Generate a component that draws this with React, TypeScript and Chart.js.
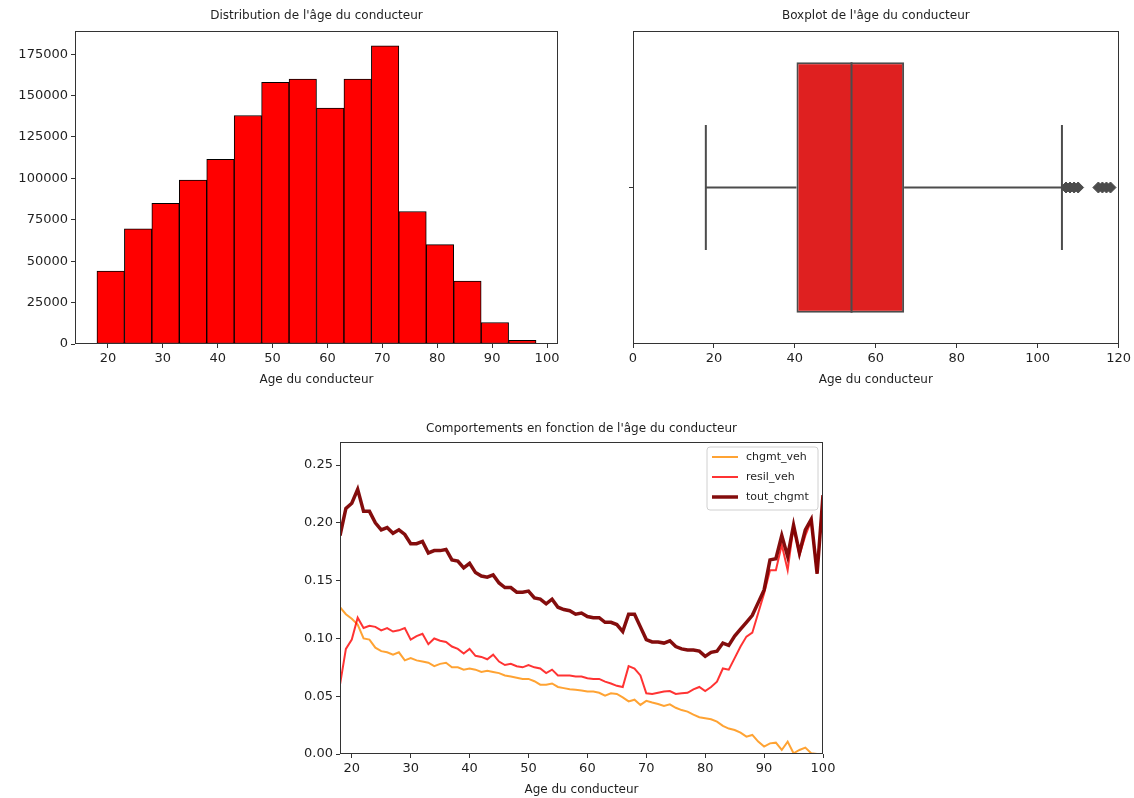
import React, { useEffect, useRef } from "react";
import { Chart, registerables } from "chart.js";
Chart.register(...registerables);

const FONT = "'DejaVu Sans', sans-serif";
const TEXT = "#1f1f1f";
const SPINE = "#333333";

// ---------- Histogram data ----------
const histEdges = [18, 23, 28, 33, 38, 43, 48, 53, 58, 63, 68, 73, 78, 83, 88, 93, 98];
const histCounts = [44000, 69500, 85000, 99000, 111500, 138000, 158000, 160000, 142500, 160000, 180000, 80000, 60000, 38000, 13000, 2200];
const histXTicks = [20, 30, 40, 50, 60, 70, 80, 90, 100];
const histYTicks = [0, 25000, 50000, 75000, 100000, 125000, 150000, 175000];

// ---------- Boxplot data ----------
const boxQuartiles = [40.4, 54, 67]; // Q1, median, Q3
const boxWhiskers = [18, 106];
const boxOutliers = [107, 108, 109, 110, 115, 116, 117, 118];
const boxXTicks = [0, 20, 40, 60, 80, 100, 120];

// ---------- Line chart data ----------
const lineAges = [
  18, 19, 20, 21, 22, 23, 24, 25, 26, 27, 28, 29, 30, 31, 32, 33, 34, 35, 36, 37,
  38, 39, 40, 41, 42, 43, 44, 45, 46, 47, 48, 49, 50, 51, 52, 53, 54, 55, 56, 57,
  58, 59, 60, 61, 62, 63, 64, 65, 66, 67, 68, 69, 70, 71, 72, 73, 74, 75, 76, 77,
  78, 79, 80, 81, 82, 83, 84, 85, 86, 87, 88, 89, 90, 91, 92, 93, 94, 95, 96, 97,
  98, 99, 100,
];
const chgmtVeh = [
  0.127, 0.121, 0.117, 0.112, 0.100, 0.099, 0.092, 0.089, 0.088, 0.086,
  0.088, 0.081, 0.083, 0.081, 0.080, 0.079, 0.076, 0.078, 0.079, 0.075,
  0.075, 0.073, 0.074, 0.073, 0.071, 0.072, 0.071, 0.070, 0.068, 0.067,
  0.066, 0.065, 0.065, 0.063, 0.060, 0.060, 0.061, 0.058, 0.057,
  0.056, 0.0555, 0.055, 0.054, 0.054, 0.053, 0.0505, 0.0525, 0.052, 0.049,
  0.0455, 0.047, 0.0425, 0.046, 0.0445, 0.0433, 0.0416, 0.043, 0.040, 0.038,
  0.0367, 0.034, 0.0318, 0.031, 0.030, 0.028, 0.0243, 0.022, 0.0208, 0.0185,
  0.015, 0.0165, 0.0107, 0.0064, 0.0092, 0.0098, 0.0035, 0.0107, 0.0006, 0.0035,
  0.0055, 0.0006, 0, 0,
];
const resilVeh = [
  0.060, 0.091, 0.099, 0.118, 0.109, 0.111, 0.110, 0.107, 0.109, 0.106,
  0.107, 0.109, 0.099, 0.102, 0.104, 0.095, 0.100, 0.098, 0.097, 0.093,
  0.091, 0.087, 0.091, 0.085, 0.084, 0.082, 0.086, 0.080, 0.077, 0.078,
  0.076, 0.075, 0.077, 0.075, 0.074, 0.070, 0.073, 0.068, 0.068, 0.068,
  0.067, 0.067, 0.0655, 0.065, 0.065, 0.0626, 0.061, 0.059, 0.058, 0.076,
  0.074, 0.068, 0.0525, 0.052, 0.053, 0.054, 0.0545, 0.052, 0.0525, 0.053,
  0.056, 0.058, 0.0545, 0.058, 0.0626, 0.074, 0.073, 0.083, 0.093, 0.1016,
  0.105, 0.122, 0.139, 0.159, 0.159, 0.181, 0.159, 0.197, 0.172, 0.189,
  0.202, 0.156, 0.224,
];
const toutChgmt = [
  0.189, 0.2125, 0.217, 0.229, 0.210, 0.210, 0.200, 0.194, 0.196, 0.191,
  0.194, 0.190, 0.182, 0.182, 0.184, 0.174, 0.176, 0.176, 0.177, 0.168,
  0.167, 0.161, 0.165, 0.157, 0.154, 0.153, 0.155, 0.148, 0.144, 0.144,
  0.140, 0.140, 0.141, 0.135, 0.134, 0.130, 0.134, 0.127, 0.125, 0.124,
  0.121, 0.122, 0.119, 0.118, 0.118, 0.114, 0.114, 0.112, 0.106, 0.121,
  0.121, 0.110, 0.099, 0.097, 0.097, 0.096, 0.098, 0.093, 0.091, 0.090,
  0.090, 0.089, 0.0845, 0.088, 0.089, 0.096, 0.094, 0.102, 0.108, 0.114,
  0.120, 0.131, 0.142, 0.168, 0.169, 0.189, 0.171, 0.198, 0.174, 0.194,
  0.203, 0.156, 0.224,
];
const lineXTicks = [20, 30, 40, 50, 60, 70, 80, 90, 100];
const lineYTicks = [0, 0.05, 0.1, 0.15, 0.2, 0.25];

// ---------- helpers ----------
function linearAxis(o: {
  min: number; max: number; ticks: number[]; fit: number; horizontal: boolean;
  title?: string; titlePadBottom?: number; format?: (v: number) => string;
}) {
  return {
    type: "linear",
    min: o.min,
    max: o.max,
    offset: false,
    grid: {
      display: true, drawOnChartArea: false, drawTicks: true, tickLength: 4,
      tickWidth: 1, tickColor: SPINE, color: SPINE, offset: false,
    },
    border: { display: false },
    ticks: {
      font: { family: FONT, size: 13 }, color: TEXT, padding: 3, autoSkip: false,
      maxRotation: 0, minRotation: 0,
      callback: (v: number) => (o.format ? o.format(v) : String(v)),
    },
    afterBuildTicks: (s: any) => { s.ticks = o.ticks.map((v) => ({ value: v })); },
    afterFit: (s: any) => { if (o.horizontal) s.height = o.fit; else s.width = o.fit; },
    title: o.title
      ? { display: true, text: o.title, font: { family: FONT, size: 12 }, color: TEXT,
          padding: { top: 0, bottom: o.titlePadBottom ?? 0 } }
      : { display: false },
  };
}

function titleOpts(text: string, top: number, bottom: number) {
  return {
    display: true, text, fullSize: false, align: "center",
    font: { family: FONT, size: 12, weight: "normal" }, color: TEXT,
    padding: { top, bottom },
  };
}

const spinesPlugin = {
  id: "spines",
  afterDraw(chart: any) {
    const { ctx, chartArea: a } = chart;
    ctx.save();
    ctx.strokeStyle = SPINE;
    ctx.lineWidth = 1;
    const l = Math.round(a.left) + 0.5, t = Math.round(a.top) + 0.5;
    const r = Math.round(a.right) - 0.5, b = Math.round(a.bottom) - 0.5;
    ctx.strokeRect(l, t, r - l, b - t);
    ctx.restore();
  },
};

const legendPlugin = {
  id: "innerLegend",
  afterDraw(chart: any) {
    const { ctx, chartArea: a } = chart;
    const ds = chart.data.datasets;
    const w = 111, h = 63;
    const x = a.right - 5 - w, y = a.top + 5;
    ctx.save();
    ctx.beginPath();
    const r = 3;
    ctx.moveTo(x + r, y);
    ctx.arcTo(x + w, y, x + w, y + h, r);
    ctx.arcTo(x + w, y + h, x, y + h, r);
    ctx.arcTo(x, y + h, x, y, r);
    ctx.arcTo(x, y, x + w, y, r);
    ctx.closePath();
    ctx.fillStyle = "rgba(255,255,255,0.8)";
    ctx.fill();
    ctx.strokeStyle = "#d0d0d0";
    ctx.lineWidth = 1;
    ctx.stroke();
    ds.forEach((d: any, i: number) => {
      const yy = y + 10 + i * 20;
      ctx.beginPath();
      ctx.strokeStyle = d.borderColor;
      ctx.lineWidth = d.borderWidth;
      ctx.moveTo(x + 5, yy);
      ctx.lineTo(x + 31, yy);
      ctx.stroke();
      ctx.fillStyle = TEXT;
      ctx.font = `11px ${FONT}`;
      ctx.textBaseline = "middle";
      ctx.textAlign = "left";
      ctx.fillText(d.label, x + 39, yy);
    });
    ctx.restore();
  },
};

function ChartBox(props: { left: number; top: number; width: number; height: number; build: () => any }) {
  const ref = useRef<HTMLCanvasElement>(null);
  useEffect(() => {
    const chart = new Chart(ref.current as HTMLCanvasElement, props.build());
    return () => chart.destroy();
  }, []);
  return (
    <canvas
      ref={ref}
      width={props.width}
      height={props.height}
      style={{ position: "absolute", left: props.left, top: props.top, width: props.width, height: props.height }}
    />
  );
}

const commonOpts = {
  responsive: false,
  animation: false,
  devicePixelRatio: 1,
  events: [],
};

function buildHistogram() {
  const data = histCounts.map((c, i) => ({ x: (histEdges[i] + histEdges[i + 1]) / 2, y: c }));
  return {
    type: "bar",
    data: {
      datasets: [{
        label: "count",
        data,
        backgroundColor: "#ff0000",
        borderColor: "#000000",
        borderWidth: 1,
        borderSkipped: false,
        barPercentage: 1,
        categoryPercentage: 1,
      }],
    },
    options: {
      ...commonOpts,
      layout: { padding: { left: 0, right: 12, top: 0, bottom: 0 } },
      plugins: {
        legend: { display: false },
        tooltip: { enabled: false },
        title: titleOpts("Distribution de l'âge du conducteur", 8.8, 7.8),
      },
      scales: {
        x: linearAxis({ min: 14, max: 102, ticks: histXTicks, fit: 56, horizontal: true, title: "Age du conducteur", titlePadBottom: 12.8 }),
        y: linearAxis({ min: 0, max: 189000, ticks: histYTicks, fit: 75, horizontal: false }),
      },
    },
    plugins: [spinesPlugin],
  };
}

function buildBoxplot() {
  const gray = "#4c4c4c";
  const seg = (pts: number[][]) => ({
    type: "scatter",
    data: pts.map((p) => ({ x: p[0], y: p[1] })),
    showLine: true,
    borderColor: gray,
    borderWidth: 2,
    pointRadius: 0,
    order: 0,
  });
  return {
    type: "bar",
    data: {
      datasets: [
        {
          type: "bar",
          indexAxis: "y",
          data: [{ y: 0, x: [boxQuartiles[0], boxQuartiles[2]] }],
          backgroundColor: "#df2020",
          borderColor: gray,
          borderWidth: 2,
          borderSkipped: false,
          barPercentage: 0.8,
          categoryPercentage: 1,
          order: 5,
        },
        seg([[boxQuartiles[1], -0.4], [boxQuartiles[1], 0.4]]),
        seg([[boxWhiskers[0], 0], [boxQuartiles[0], 0]]),
        seg([[boxQuartiles[2], 0], [boxWhiskers[1], 0]]),
        seg([[boxWhiskers[0], -0.2], [boxWhiskers[0], 0.2]]),
        seg([[boxWhiskers[1], -0.2], [boxWhiskers[1], 0.2]]),
        {
          type: "scatter",
          data: boxOutliers.map((v) => ({ x: v, y: 0 })),
          pointStyle: "rectRot",
          pointRadius: 5.5,
          backgroundColor: gray,
          borderColor: gray,
          borderWidth: 1,
          order: 0,
        },
      ],
    },
    options: {
      ...commonOpts,
      layout: { padding: { left: 0, right: 14, top: 0, bottom: 0 } },
      plugins: {
        legend: { display: false },
        tooltip: { enabled: false },
        title: titleOpts("Boxplot de l'âge du conducteur", 8.8, 7.8),
      },
      scales: {
        x: linearAxis({ min: 0, max: 120, ticks: boxXTicks, fit: 56, horizontal: true, title: "Age du conducteur", titlePadBottom: 12.8 }),
        y: linearAxis({ min: -0.5, max: 0.5, ticks: [0], fit: 63, horizontal: false, format: () => "" }),
      },
    },
    plugins: [spinesPlugin],
  };
}

function buildLines() {
  const pts = (vals: number[]) => lineAges.map((a, i) => ({ x: a, y: vals[i] }));
  return {
    type: "line",
    data: {
      datasets: [
        { label: "chgmt_veh", data: pts(chgmtVeh), borderColor: "rgba(255,140,0,0.8)", borderWidth: 2, pointRadius: 0, tension: 0, order: 2 },
        { label: "resil_veh", data: pts(resilVeh), borderColor: "rgba(255,0,0,0.8)", borderWidth: 2, pointRadius: 0, tension: 0, order: 1 },
        { label: "tout_chgmt", data: pts(toutChgmt), borderColor: "rgba(125,0,0,0.95)", borderWidth: 3.5, pointRadius: 0, tension: 0, order: 0 },
      ],
    },
    options: {
      ...commonOpts,
      layout: { padding: { left: 0, right: 17, top: 0, bottom: 0 } },
      plugins: {
        legend: { display: false },
        tooltip: { enabled: false },
        title: titleOpts("Comportements en fonction de l'âge du conducteur", 21.5, 6.1),
      },
      scales: {
        x: linearAxis({ min: 18, max: 100, ticks: lineXTicks, fit: 44, horizontal: true, title: "Age du conducteur", titlePadBottom: 0.5 }),
        y: linearAxis({ min: 0, max: 0.27, ticks: lineYTicks, fit: 60, horizontal: false, format: (v) => v.toFixed(2) }),
      },
    },
    plugins: [spinesPlugin, legendPlugin],
  };
}

export default function App() {
  return (
    <div style={{ position: "fixed", left: 0, top: 0, width: 1134, height: 798, background: "#ffffff", overflow: "hidden" }}>
      <ChartBox left={0} top={0} width={570} height={400} build={buildHistogram} />
      <ChartBox left={570} top={0} width={564} height={400} build={buildBoxplot} />
      <ChartBox left={280} top={400} width={560} height={398} build={buildLines} />
    </div>
  );
}
